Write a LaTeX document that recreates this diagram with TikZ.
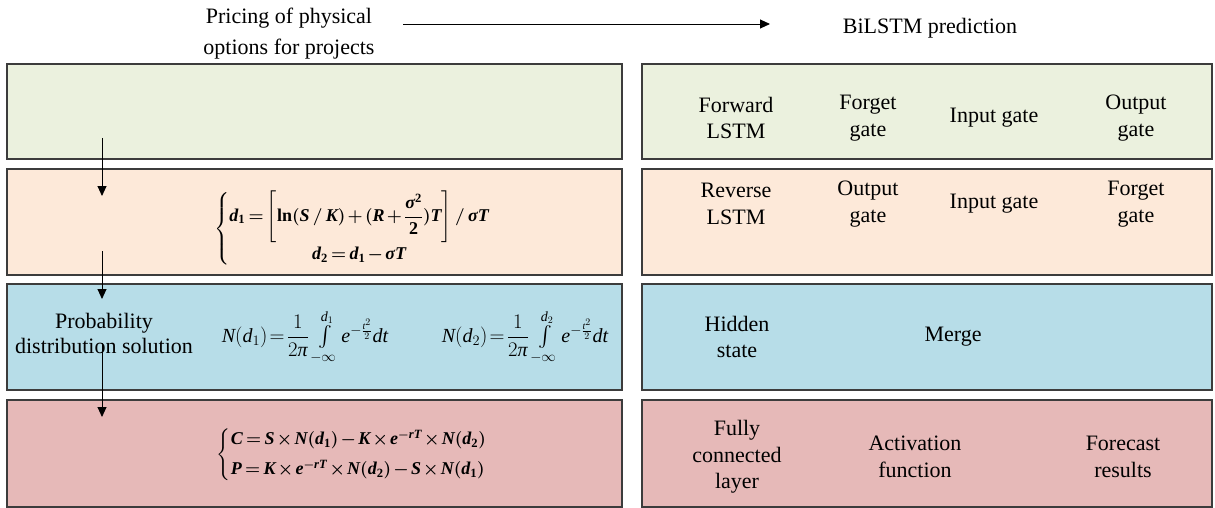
\documentclass[tikz,border=0pt]{standalone}
\usepackage{amsmath}
\usepackage{fontspec}
\setmainfont{Liberation Serif}
\usetikzlibrary{arrows.meta,fit}

\definecolor{cgreen}{HTML}{EBF1DE}
\definecolor{cpeach}{HTML}{FDE9D9}
\definecolor{cblue}{HTML}{B7DDE8}
\definecolor{cred}{HTML}{E6B9B8}
\definecolor{panelline}{HTML}{3C3C3C}

% formula letters in the serif text face
\newcommand{\fB}[1]{\text{\bfseries\itshape #1}}
\newcommand{\fR}[1]{\text{\bfseries #1}}
\newcommand{\fI}[1]{\text{\itshape #1}}
% tighter operator spacing for the formulas
\newcommand{\tightmath}{\thickmuskip=3mu plus 2mu\medmuskip=2mu plus 1mu}

% d1 and d2
\newcommand{\dformula}{{\boldmath\tightmath$\left\{\begin{array}{@{}c@{}}
\fB{d}_{\fR{1}}=\left[\fR{ln}(\fB{S}\,/\,\fB{K})+(\fB{R}+\dfrac{\fB{σ}^{\fR{2}}}{\fR{2}})\fB{T}\right]/\,\fB{σ}\fB{T}\\[12pt]
\fB{d}_{\fR{2}}=\fB{d}_{\fR{1}}-\fB{σ}\fB{T}
\end{array}\right.$}}

% standard normal distribution
\newcommand{\nformula}[1]{{\thickmuskip=2mu plus 2mu$\fI{N}(\fI{d}_{#1})=\dfrac{1}{2\fI{π}}\int\limits_{-\infty}^{\fI{d}_{#1}}\fI{e}^{-\frac{\fI{t}^2}{2}}\fI{dt}$}}

% call and put values
\newcommand{\cpformula}{{\boldmath\tightmath$\left\{\begin{array}{@{}l@{}}
\fB{C}=\fB{S}\times\fB{N}(\fB{d}_{\fR{1}})-\fB{K}\times\fB{e}^{-\fB{rT}}\times\fB{N}(\fB{d}_{\fR{2}})\\[6pt]
\fB{P}=\fB{K}\times\fB{e}^{-\fB{rT}}\times\fB{N}(\fB{d}_{\fR{2}})-\fB{S}\times\fB{N}(\fB{d}_{\fR{1}})
\end{array}\right.$}}

\begin{document}
\begin{tikzpicture}[x=1pt,y=-1pt,
  panel/.style={draw=panelline, line width=1.3pt, inner sep=0pt},
  lbl/.style={font=\fontsize{22}{26.5}\selectfont, align=center, inner sep=0pt},
  fml/.style={font=\fontsize{18}{24}\selectfont, inner sep=0pt},
  flow/.style={-{Triangle[length=10pt,width=9pt]}, line width=0.9pt}
]
\useasboundingbox (0,0) rectangle (1215,508);

% headings
\node[lbl, font=\fontsize{22}{31}\selectfont] (pricing) at (289,34) {Pricing of physical\\options for projects};
\node[lbl] (bilstm) at (930,28) {BiLSTM prediction};
\coordinate (hs) at (403,24);
\coordinate (he) at (770,24);
\draw[flow] (hs) -- (he);

% left column panels
\node[panel, fill=cgreen, fit={(7,64) (622,159)}] (L1) {};
\node[panel, fill=cpeach, fit={(7,169) (622,275)}] (L2) {};
\node[panel, fill=cblue,  fit={(7,284) (622,390)}] (L3) {};
\node[panel, fill=cred,   fit={(7,400) (622,507)}] (L4) {};

% right column panels
\node[panel, fill=cgreen, fit={(642,64) (1212,159)}] (R1) {};
\node[panel, fill=cpeach, fit={(642,169) (1212,275)}] (R2) {};
\node[panel, fill=cblue,  fit={(642,284) (1212,390)}] (R3) {};
\node[panel, fill=cred,   fit={(642,400) (1212,507)}] (R4) {};

% formulas
\node[fml] (dform) at (352,229) {\dformula};
\node[lbl, font=\fontsize{22}{25}\selectfont] (prob) at (104,333) {Probability\\distribution solution};
\node[fml, font=\fontsize{20}{24}\selectfont] (nd1) at (305,337) {\nformula{1}};
\node[fml, font=\fontsize{20}{24}\selectfont] (nd2) at (525,337) {\nformula{2}};
\node[fml] (cp) at (352,455) {\cpformula};

% flow down the left column
\coordinate (a1s) at (102,138);
\coordinate (a1e) at (102,196);
\coordinate (a2s) at (102,251);
\coordinate (a2e) at (102,299);
\coordinate (a3s) at (102,343);
\coordinate (a3e) at (102,417);
\draw[flow] (a1s) -- (a1e);
\draw[flow] (a2s) -- (a2e);
\draw[flow] (a3s) -- (a3e);

% BiLSTM stages
\node[lbl] (fwd)  at (736,118) {Forward\\LSTM};
\node[lbl] (fg1)  at (868,118) {Forget\\gate};
\node[lbl] (ig1)  at (994,118) {Input gate};
\node[lbl] (og1)  at (1136,118) {Output\\gate};

\node[lbl] (rev)  at (736,204) {Reverse\\LSTM};
\node[lbl] (og2)  at (868,204) {Output\\gate};
\node[lbl] (ig2)  at (994,204) {Input gate};
\node[lbl] (fg2)  at (1136,204) {Forget\\gate};

\node[lbl] (hid)  at (737,337) {Hidden\\state};
\node[lbl] (mrg)  at (953,337) {Merge};

\node[lbl] (fcl)  at (737,457) {Fully\\connected\\layer};
\node[lbl] (act)  at (915,457) {Activation\\function};
\node[lbl] (fcr)  at (1123,457) {Forecast\\results};
\end{tikzpicture}
\end{document}
